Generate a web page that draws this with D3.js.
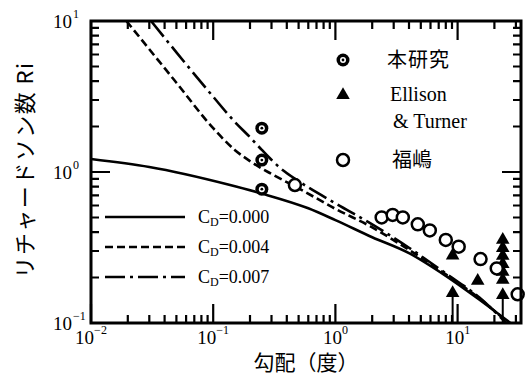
<!DOCTYPE html>
<html>
<head>
<meta charset="utf-8">
<script src="https://cdn.jsdelivr.net/npm/d3@7"></script>
<style>
body { margin: 0; background: #fff; }
#chart { position: relative; width: 526px; height: 378px; }
#chart svg { position: absolute; left: 0; top: 0; }
</style>
</head>
<body>
<div id="chart"></div>
<script>
// curves: slope (deg) vs Richardson number
const cd000X = [0.01, 0.03, 0.13, 0.25, 0.6, 1, 2, 4, 8, 15, 27];
const cd000Ri = [1.22, 1.08, 0.83, 0.72, 0.575, 0.48, 0.37, 0.29, 0.205, 0.143, 0.1];
const cd004X = [0.0195, 0.03, 0.05, 0.1, 0.15, 0.2, 0.3, 0.5, 1, 2, 4, 8, 15, 26];
const cd004Ri = [10, 6.5, 3.9, 1.95, 1.4, 1.18, 0.97, 0.78, 0.57, 0.43, 0.305, 0.21, 0.146, 0.1];
const cd007X = [0.031, 0.05, 0.1, 0.15, 0.2, 0.25, 0.35, 0.5, 1, 2, 4, 8, 15, 25];
const cd007Ri = [10, 6.2, 3.15, 2.15, 1.7, 1.4, 1.07, 0.87, 0.62, 0.45, 0.315, 0.213, 0.148, 0.1];

// measurements
const hontaiX = [0.25, 0.25, 0.25];
const hontaiRi = [1.95, 1.2, 0.77];
const fukushimaX = [0.466, 2.39, 2.94, 3.56, 4.72, 5.92, 8.0, 10.2, 15.4, 20.9, 31];
const fukushimaRi = [0.82, 0.50, 0.52, 0.50, 0.45, 0.41, 0.355, 0.32, 0.265, 0.23, 0.155];
const ellisonX = [9.1, 14.6, 23.4, 23.4, 23.4, 23.4, 23.4, 23.4];
const ellisonRi = [0.28, 0.19, 0.355, 0.314, 0.278, 0.246, 0.218, 0.193];
const ellisonLowX = [9.1, 23.4];
const ellisonLowRi = [0.158, 0.153];

const curveNames = ['C_D=0.000', 'C_D=0.004', 'C_D=0.007'];
const xTickExp = [-2, -1, 0, 1];
const yTickExp = [-1, 0, 1];

const margin = {top: 21, right: 5, bottom: 55, left: 91};
const W = 526, H = 378;
const width = W - margin.left - margin.right;
const height = H - margin.top - margin.bottom;

const svg = d3.select('#chart').append('svg')
    .attr('width', W)
    .attr('height', H);

const g = svg.append('g')
    .attr('transform', `translate(${margin.left},${margin.top})`);

const x = d3.scaleLog().domain([0.01, 33]).range([0, width]);
const y = d3.scaleLog().domain([0.1, 10]).range([height, 0]);

const serif = '"Liberation Serif", "Times New Roman", serif';
const cjk = '"Noto Sans CJK JP", sans-serif';

// x tick labels
xTickExp.forEach(e => {
    const t = g.append('text')
        .attr('x', x(Math.pow(10, e)))
        .attr('y', height + 21)
        .attr('text-anchor', 'middle')
        .style('font-family', serif)
        .style('font-size', '19px');
    t.append('tspan').text('10');
    t.append('tspan').attr('dy', -10).style('font-size', '12px')
        .text(e < 0 ? '\u2212' + (-e) : e);
});

// y tick labels
yTickExp.forEach(e => {
    g.append('text')
        .attr('x', -19)
        .attr('y', y(Math.pow(10, e)) + 6.5)
        .attr('text-anchor', 'end')
        .style('font-family', serif)
        .style('font-size', '19px')
        .text('10');
    g.append('text')
        .attr('x', -18)
        .attr('y', y(Math.pow(10, e)) - 3)
        .style('font-family', serif)
        .style('font-size', '12px')
        .text(e < 0 ? '\u2212' + (-e) : e);
});

// axis titles
svg.append('text')
    .attr('x', margin.left + width / 2)
    .attr('y', 370)
    .attr('text-anchor', 'middle')
    .style('font-family', cjk)
    .style('font-size', '21px')
    .text('勾配（度）');

svg.append('text')
    .attr('transform', 'translate(33,170) rotate(-90)')
    .attr('text-anchor', 'middle')
    .style('font-family', cjk)
    .style('font-size', '22px')
    .style('letter-spacing', '1.5px')
    .text('リチャードソン数 Ri');

// curves
const line = d3.line()
    .x(d => x(d[0]))
    .y(d => y(d[1]))
    .curve(d3.curveMonotoneX);

const curves = [
    {xs: cd000X, ys: cd000Ri, dash: null},
    {xs: cd004X, ys: cd004Ri, dash: '8,4'},
    {xs: cd007X, ys: cd007Ri, dash: '20,5,3,5'}
];

curves.forEach(c => {
    g.append('path')
        .datum(c.xs.map((v, i) => [v, c.ys[i]]))
        .attr('fill', 'none')
        .attr('stroke', '#000')
        .attr('stroke-width', 2.6)
        .attr('stroke-dasharray', c.dash)
        .attr('d', line);
});

// line legend
curves.forEach((c, i) => {
    const ly = 196 + i * 30;
    g.append('line')
        .attr('x1', 14).attr('x2', 94)
        .attr('y1', ly).attr('y2', ly)
        .attr('stroke', '#000')
        .attr('stroke-width', 2.6)
        .attr('stroke-dasharray', c.dash);
    const t = g.append('text')
        .attr('x', 107)
        .attr('y', ly + 6)
        .style('font-family', serif)
        .style('font-size', '18px');
    const parts = curveNames[i].split('_D');
    t.append('tspan').text(parts[0]);
    t.append('tspan').attr('dy', 3).style('font-size', '12px').text('D');
    t.append('tspan').attr('dy', -3).text(parts[1]);
});

// markers
const tri = d3.symbol().type(d3.symbolTriangle).size(80);

function hontaiMark(sel) {
    sel.append('circle').attr('r', 6.5).attr('fill', '#000');
    sel.append('circle').attr('r', 3).attr('fill', '#fff');
    sel.append('circle').attr('r', 1.4).attr('fill', '#000');
}

ellisonLowX.forEach((v, i) => {
    g.append('line')
        .attr('x1', x(v)).attr('x2', x(v))
        .attr('y1', y(ellisonLowRi[i])).attr('y2', height)
        .attr('stroke', '#000')
        .attr('stroke-width', 2);
});

ellisonX.concat(ellisonLowX).forEach((v, i) => {
    const r = i < ellisonX.length ? ellisonRi[i] : ellisonLowRi[i - ellisonX.length];
    g.append('path')
        .attr('d', tri)
        .attr('transform', `translate(${x(v)},${y(r)})`)
        .attr('fill', '#000');
});

fukushimaX.forEach((v, i) => {
    g.append('circle')
        .attr('cx', x(v))
        .attr('cy', y(fukushimaRi[i]))
        .attr('r', 6)
        .attr('fill', '#fff')
        .attr('stroke', '#000')
        .attr('stroke-width', 2.5);
});

hontaiX.forEach((v, i) => {
    hontaiMark(g.append('g').attr('transform', `translate(${x(v)},${y(hontaiRi[i])})`));
});

// symbol legend
const lx = 252;
hontaiMark(g.append('g').attr('transform', `translate(${lx},39)`));
g.append('path').attr('d', tri).attr('transform', `translate(${lx},74)`).attr('fill', '#000');
g.append('circle').attr('cx', lx).attr('cy', 139).attr('r', 6)
    .attr('fill', '#fff').attr('stroke', '#000').attr('stroke-width', 2.5);

g.append('text').attr('x', 296).attr('y', 46)
    .style('font-family', cjk).style('font-size', '20px')
    .style('letter-spacing', '1px').text('本研究');
g.append('text').attr('x', 299).attr('y', 80)
    .style('font-family', serif).style('font-size', '20px').text('Ellison');
g.append('text').attr('x', 302).attr('y', 107)
    .style('font-family', serif).style('font-size', '20px').text('& Turner');
g.append('text').attr('x', 301).attr('y', 146)
    .style('font-family', cjk).style('font-size', '20px').text('福嶋');

// frame and inward ticks in an overlay svg on top of the chart
const frameSvg = d3.select('#chart').append('svg')
    .attr('width', W)
    .attr('height', H);
const fg = frameSvg.append('g')
    .attr('transform', `translate(${margin.left},${margin.top})`);

const xMajor = xTickExp.map(e => Math.pow(10, e));
const yMajor = yTickExp.map(e => Math.pow(10, e));
const xMinor = [];
const yMinor = [];
[-2, -1, 0, 1].forEach(e => {
    for (let m = 2; m <= 9; m++) {
        const v = m * Math.pow(10, e);
        if (v <= 33) xMinor.push(v);
    }
});
[-1, 0].forEach(e => {
    for (let m = 2; m <= 9; m++) yMinor.push(m * Math.pow(10, e));
});

const majLen = 19, minLen = 8;
const r1 = v => Math.round(v * 10) / 10;
let tickPath = '';
xMajor.concat(xMinor).forEach((v, i) => {
    const px = r1(x(v));
    const l = i < xMajor.length ? majLen : minLen;
    tickPath += `M${px},${height}V${height - l}M${px},0V${l}`;
});
yMajor.concat(yMinor).forEach((v, i) => {
    const py = r1(y(v));
    const l = i < yMajor.length ? majLen : minLen;
    tickPath += `M0,${py}H${l}M${width},${py}H${width - l}`;
});

fg.append('path')
    .attr('d', tickPath)
    .attr('fill', 'none')
    .attr('stroke', '#000')
    .attr('stroke-width', 2.2);

fg.append('rect')
    .attr('width', width)
    .attr('height', height)
    .attr('fill', 'none')
    .attr('stroke', '#000')
    .attr('stroke-width', 3);
</script>
</body>
</html>
